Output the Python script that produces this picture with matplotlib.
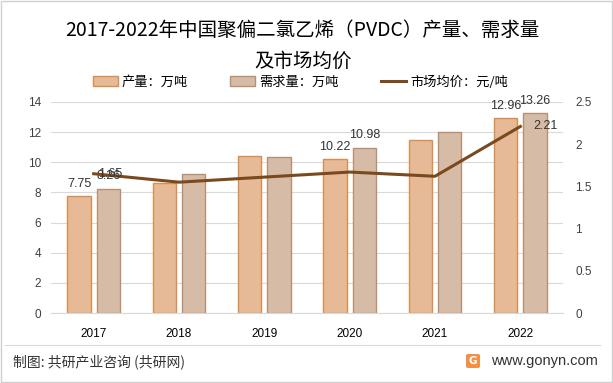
import matplotlib
matplotlib.use("Agg")
import matplotlib.pyplot as plt
import numpy as np
from matplotlib.patches import Rectangle, FancyBboxPatch
from matplotlib.lines import Line2D

plt.rcParams['font.family'] = ['Noto Sans CJK SC', 'DejaVu Sans']

years = ["2017", "2018", "2019", "2020", "2021", "2022"]
output = [7.75, 8.6, 10.4, 10.22, 11.46, 12.96]
demand = [8.26, 9.2, 10.33, 10.98, 11.99, 13.26]
price = [1.65, 1.55, 1.61, 1.67, 1.62, 2.21]
output_labels = {0: "7.75", 3: "10.22", 5: "12.96"}
demand_labels = {0: "8.26", 3: "10.98", 5: "13.26"}
price_labels = {0: "1.65", 5: "2.21"}

c_out, e_out = "#E6BA96", "#D98E4C"
c_dem, e_dem = "#D6BCA7", "#B98F74"
c_line = "#7A4A1E"
num_font = "Liberation Sans"

fig = plt.figure(figsize=(6.13, 3.83), dpi=100)
ax = fig.add_axes([51 / 613, 1 - 313 / 383, 512 / 613, 211 / 383])
ax2 = ax.twinx()

x = np.arange(len(years))
w = 0.27
off = 0.172
ax.bar(x - off, output, w, color=c_out, edgecolor=e_out, linewidth=1, zorder=2)
ax.bar(x + off, demand, w, color=c_dem, edgecolor=e_dem, linewidth=1, zorder=2)
for i, t in output_labels.items():
    ax.text(x[i] - off, output[i] + 0.4, t, ha="center", va="bottom", fontsize=9, color="#333333", family=num_font)
for i, t in demand_labels.items():
    ax.text(x[i] + off, demand[i] + 0.4, t, ha="center", va="bottom", fontsize=9, color="#333333", family=num_font)

ax2.plot(x, price, color=c_line, linewidth=2.2, zorder=3)
# labels drawn like the source: 1.65 sits over the 8.26 bar label
for i, t in price_labels.items():
    ax2.text(x[i] + (0.05 if i == 0 else 0.15), price[i], t, ha="left", va="center",
             fontsize=9, color="#333333", family=num_font)

ax.set_xlim(-0.5, len(years) - 0.5)
ax.set_ylim(0, 14)
ax.set_yticks(np.arange(0, 15, 2))
ax2.set_ylim(0, 2.5)
ax2.set_yticks([0, 0.5, 1, 1.5, 2, 2.5])
ax2.set_yticklabels(["0", "0.5", "1", "1.5", "2", "2.5"])
ax.set_xticks(x)
ax.set_xticklabels(years)
ax.grid(axis="y", color="#D9D9D9", linewidth=0.8, zorder=0)
ax.set_axisbelow(True)
for a in (ax, ax2):
    for s in a.spines.values():
        s.set_visible(False)
    a.tick_params(length=0, labelsize=8.5, colors="#404040")
    for lab in a.get_yticklabels() + a.get_xticklabels():
        lab.set_family(num_font)
ax.spines["bottom"].set_visible(True)
ax.spines["bottom"].set_color("#D9D9D9")
ax.tick_params(axis="x", pad=11, colors="black")
ax.tick_params(axis="y", pad=7)
ax2.tick_params(axis="y", pad=9)

fig.text(0.494, 1 - 30 / 383, "2017-2022年中国聚偏二氯乙烯（PVDC）产量、需求量", ha="center", va="center", fontsize=14)
fig.text(0.494, 1 - 61 / 383, "及市场均价", ha="center", va="center", fontsize=14)

handles = [Rectangle((0, 0), 1, 1, facecolor=c_out, edgecolor=e_out),
           Rectangle((0, 0), 1, 1, facecolor=c_dem, edgecolor=e_dem),
           Line2D([0], [0], color=c_line, linewidth=2.2)]
fig.legend(handles, ["产量：万吨", "需求量：万吨", "市场均价：元/吨"], loc="center",
           bbox_to_anchor=(0.49, 1 - 82 / 383), ncol=3, frameon=False, fontsize=9.5,
           handlelength=1.9, handleheight=0.7, columnspacing=3.2, handletextpad=0.3)

fig.add_artist(Line2D([5 / 613, 600 / 613], [1 - 345 / 383] * 2, color="#D9D9D9", linewidth=0.8))
fig.text(13 / 613, 1 - 362 / 383, "制图: 共研产业咨询 (共研网)", ha="left", va="center", fontsize=10, color="#333333")
fig.text(598 / 613, 1 - 361 / 383, "www.gonyn.com", ha="right", va="center", fontsize=10.5, color="#333333", family=num_font)
fig.add_artist(FancyBboxPatch((466 / 613, 1 - 368 / 383), 14 / 613, 14 / 383,
                              boxstyle="round,pad=0,rounding_size=0.004",
                              facecolor="#F39046", edgecolor="none"))
fig.text(473 / 613, 1 - 361 / 383, "G", ha="center", va="center", fontsize=7.5,
         color="white", fontweight="bold", family="DejaVu Sans")

fig.add_artist(Rectangle((1 / 613, 1 / 383), 611 / 613, 381 / 383, fill=False, edgecolor="#D0D0D0", linewidth=1))

fig.savefig("out.png", dpi=100)
